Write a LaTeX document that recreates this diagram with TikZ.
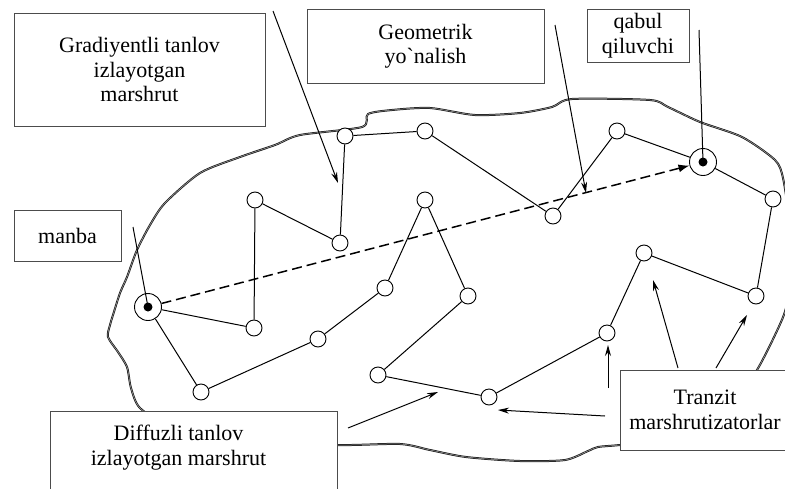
\documentclass[tikz,border=0pt]{standalone}
\usepackage{fontspec}
\setmainfont{Liberation Serif}
\usetikzlibrary{arrows.meta}

\begin{document}
\begin{tikzpicture}[x=1pt, y=-1pt, line width=1pt, >={Stealth[length=11pt,width=6pt]}, every label/.append style={text=black, align=center, font=\fontsize{22}{24.5}\selectfont}]
    \tikzstyle{router}=[circle, draw=black, fill=white, minimum size=16pt, inner sep=0pt, line width=0.9pt]
    \tikzstyle{host}=[router, minimum size=27pt]
    \tikzstyle{hostdot}=[circle, fill=black, minimum size=9pt, inner sep=0pt]
    \tikzstyle{caption}=[rectangle, draw=black!70, fill=white, line width=0.8pt, inner sep=0pt]
    \tikzstyle{border}=[draw=black!90, double=black!35, double distance=0.5pt, line width=0.75pt]
    \tikzstyle{pointer}=[->, line width=1pt]
    \tikzstyle{geodash}=[-{Latex[length=11pt,width=8pt]}, line width=1.5pt, dash pattern=on 10pt off 5pt]

    \useasboundingbox (0,0) rectangle (785,488);

    % Draw the network border
    \draw[border] plot[smooth cycle, tension=0.45] coordinates {
        (137,250) (150,225) (165,203) (200,173) (240,157) (275,145) (300,135) (362,127)
        (368,114) (392,110) (430,108) (475,115) (520,113) (552,107) (572,99) (650,100)
        (668,107) (700,122) (742,137) (775,160) (783,178) (789,220) (790,270) (786,308)
        (775,335) (757,370) (730,410) (690,438) (620,445) (598,447) (588,451) (565,460)
        (520,461) (466,457) (430,450) (400,444) (337,445) (250,440) (170,425) (140,408)
        (131,388) (127,367) (118,352) (108,337) (110,325) (113,315) (120,293) (127,277)};

    % Draw the source and the receiver
    \node[host, label={[hostdot]center:}] (src) at (148,307) {};
    \node[host, label={[hostdot]center:}] (dst) at (703,162) {};

    % Draw the transit routers
    \node[router] (R1) at (254,328) {};
    \node[router] (R2) at (255,200) {};
    \node[router] (R3) at (340,243) {};
    \node[router] (R4) at (345,136) {};
    \node[router] (R5) at (425,131) {};
    \node[router] (R6) at (553,216) {};
    \node[router] (R7) at (617,131) {};
    \node[router] (R8) at (773,199) {};
    \node[router] (R9) at (756,296) {};
    \node[router] (R10) at (644,253) {};
    \node[router] (R11) at (607,333) {};
    \node[router] (R12) at (489,397) {};
    \node[router] (R13) at (378,375) {};
    \node[router] (R14) at (468,296) {};
    \node[router] (R15) at (425,200) {};
    \node[router] (R16) at (385,288) {};
    \node[router] (R17) at (318,339) {};
    \node[router] (R18) at (201,392) {};

    % Draw the captions
    \node[caption, minimum width=251pt, minimum height=113pt, label=center:{Gradiyentli tanlov\\izlayotgan\\marshrut}] (Grad-Box) at (139.5,69.5) {};
    \node[caption, minimum width=237pt, minimum height=74pt, label=center:{Geometrik\\yo\textasciigrave nalish}] (Geo-Box) at (425.5,46) {};
    \node[caption, minimum width=102pt, minimum height=53pt, label=center:{qabul\\qiluvchi}] (Dst-Box) at (638,35.5) {};
    \node[caption, minimum width=107pt, minimum height=51pt, label=center:{manba}] (Src-Box) at (67.5,235.5) {};
    \node[caption, minimum width=287pt, minimum height=79pt, label={[xshift=-15pt, yshift=3pt]center:{Diffuzli tanlov\\izlayotgan marshrut}}] (Diff-Box) at (193.5,450.5) {};
    \node[caption, minimum width=170pt, minimum height=80pt, label=center:{Tranzit\\marshrutizatorlar}] (Tr-Box) at (705,410) {};

    % Ends of the pointers
    \coordinate (Grad-Tail) at (273,11);
    \coordinate (Grad-Tip) at (338,183);
    \coordinate (Geo-Tail) at (555,25);
    \coordinate (Geo-Tip) at (586,193);
    \coordinate (Dst-Tail) at (699,30);
    \coordinate (Src-Tail) at (133,227);
    \coordinate (Diff-Tail) at (348,428);
    \coordinate (Diff-Tip) at (438,392);
    \coordinate (Tr-Tail1) at (605,416);
    \coordinate (Tr-Tip1) at (498,410);
    \coordinate (Tr-Tail2) at (608,388);
    \coordinate (Tr-Tip2) at (608,345);
    \coordinate (Tr-Tail3) at (678,368);
    \coordinate (Tr-Tip3) at (653,280);
    \coordinate (Tr-Tail4) at (716,368);
    \coordinate (Tr-Tip4) at (747,315);

    % Connect the routers along the two routes
    \path (src) edge (R1);
    \path (R1) edge (R2);
    \path (R2) edge (R3);
    \path (R3) edge (R4);
    \path (R4) edge (R5);
    \path (R5) edge (R6);
    \path (R6) edge (R7);
    \path (R7) edge (dst);
    \path (dst) edge (R8);
    \path (R8) edge (R9);
    \path (R9) edge (R10);
    \path (R10) edge (R11);
    \path (R11) edge (R12);
    \path (R12) edge (R13);
    \path (R13) edge (R14);
    \path (R14) edge (R15);
    \path (R15) edge (R16);
    \path (R16) edge (R17);
    \path (R17) edge (R18);
    \path (R18) edge (src);

    % Geometric direction
    \draw[geodash] (src) -- (dst);

    % Pointers from the captions
    \draw[pointer] (Grad-Tail) -- (Grad-Tip);
    \draw[pointer] (Geo-Tail) -- (Geo-Tip);
    \draw (Dst-Tail) -- (dst.center);
    \draw (Src-Tail) -- (src.center);
    \draw[pointer] (Diff-Tail) -- (Diff-Tip);
    \draw[pointer] (Tr-Tail1) -- (Tr-Tip1);
    \draw[pointer] (Tr-Tail2) -- (Tr-Tip2);
    \draw[pointer] (Tr-Tail3) -- (Tr-Tip3);
    \draw[pointer] (Tr-Tail4) -- (Tr-Tip4);

\end{tikzpicture}
\end{document}
